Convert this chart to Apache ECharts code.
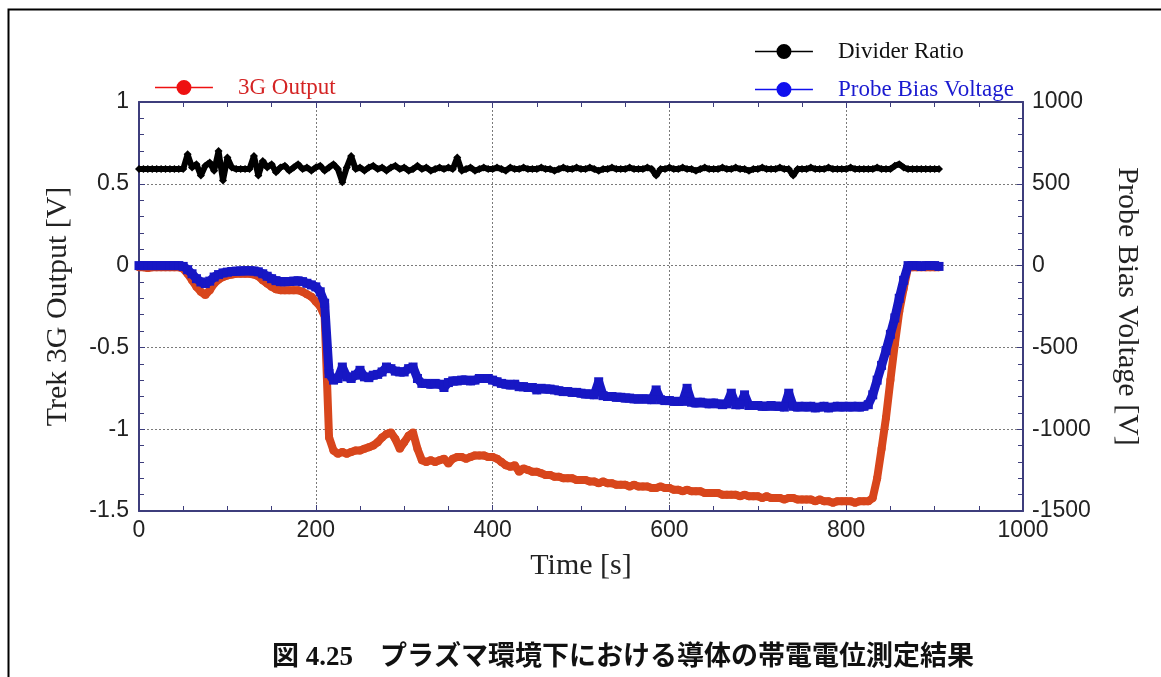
<!DOCTYPE html>
<html>
<head>
<meta charset="utf-8">
<script src="https://cdn.jsdelivr.net/npm/echarts@6/dist/echarts.min.js"></script>
<style>html,body{margin:0;padding:0;background:#fff;}#c{width:1161px;height:677px;}</style>
</head>
<body>
<div id="c"></div>
<script>
// sampling step of the recorded time series [s]
const T_STEP = 5;
const xTicks = { min: 0, max: 1000, interval: 200 };
const leftTicks = { min: -1.5, max: 1, interval: 0.5 };
const rightTicks = { min: -1500, max: 1000, interval: 500 };

// Trek 3G Output [V] (left axis), one value every 5 s from t = 0
const output3G = [
  -0.01,-0.01,-0.015,-0.01,-0.01,-0.01,-0.01,-0.01,-0.01,-0.01,
  -0.02,-0.05,-0.09,-0.13,-0.16,-0.18,-0.15,-0.11,-0.085,-0.07,
  -0.06,-0.055,-0.05,-0.05,-0.05,-0.05,-0.055,-0.065,-0.09,-0.11,
  -0.13,-0.145,-0.15,-0.15,-0.15,-0.15,-0.15,-0.16,-0.175,-0.19,
  -0.22,-0.25,-0.31,-1.05,-1.13,-1.15,-1.14,-1.15,-1.14,-1.13,
  -1.13,-1.12,-1.11,-1.10,-1.08,-1.05,-1.03,-1.02,-1.06,-1.12,
  -1.08,-1.04,-1.02,-1.12,-1.19,-1.20,-1.19,-1.20,-1.19,-1.18,
  -1.21,-1.18,-1.17,-1.17,-1.18,-1.17,-1.16,-1.16,-1.16,-1.17,
  -1.17,-1.18,-1.20,-1.22,-1.23,-1.22,-1.26,-1.24,-1.25,-1.26,
  -1.26,-1.27,-1.28,-1.28,-1.29,-1.29,-1.30,-1.30,-1.30,-1.31,
  -1.31,-1.31,-1.32,-1.32,-1.33,-1.32,-1.33,-1.33,-1.34,-1.34,
  -1.34,-1.35,-1.34,-1.35,-1.35,-1.35,-1.36,-1.36,-1.35,-1.36,
  -1.36,-1.37,-1.37,-1.38,-1.37,-1.38,-1.38,-1.38,-1.39,-1.39,
  -1.39,-1.39,-1.40,-1.40,-1.40,-1.40,-1.41,-1.40,-1.41,-1.41,
  -1.41,-1.42,-1.41,-1.42,-1.42,-1.42,-1.43,-1.42,-1.42,-1.43,
  -1.43,-1.43,-1.43,-1.44,-1.43,-1.44,-1.44,-1.45,-1.44,-1.44,
  -1.44,-1.44,-1.45,-1.44,-1.44,-1.44,-1.42,-1.30,-1.12,-0.93,
  -0.70,-0.48,-0.28,-0.14,-0.01,-0.01,-0.01,-0.01,-0.01,-0.01,
  -0.01,-0.01
];

// Probe Bias Voltage [V] (right axis), one value every 5 s from t = 0
const probeBias = [
  0,0,0,0,0,0,0,0,0,0,
  -5,-25,-50,-80,-100,-110,-95,-70,-55,-45,
  -40,-36,-34,-33,-32,-32,-33,-38,-50,-65,
  -80,-92,-98,-98,-97,-95,-93,-98,-108,-118,
  -130,-160,-230,-660,-700,-690,-620,-680,-690,-670,
  -640,-680,-685,-670,-665,-650,-620,-630,-645,-650,
  -650,-630,-620,-690,-720,-720,-725,-720,-725,-745,
  -715,-705,-705,-700,-700,-705,-700,-690,-690,-690,
  -700,-710,-720,-725,-730,-725,-740,-740,-745,-745,
  -760,-750,-755,-755,-760,-765,-770,-770,-775,-775,
  -780,-785,-785,-790,-710,-795,-800,-800,-805,-805,
  -810,-810,-815,-815,-815,-815,-820,-760,-820,-825,
  -825,-830,-830,-830,-750,-835,-840,-835,-840,-845,
  -840,-845,-850,-845,-780,-850,-850,-790,-855,-855,
  -855,-860,-860,-855,-860,-860,-865,-780,-860,-865,
  -860,-865,-860,-870,-865,-860,-870,-865,-860,-865,
  -860,-865,-860,-865,-860,-850,-790,-700,-610,-520,
  -420,-320,-200,-90,0,0,0,-5,0,0,
  0,-5
];

// Divider Ratio (left axis), one value every 5 s from t = 0
const dividerRatio = [
  0.59,0.59,0.59,0.59,0.59,0.59,0.59,0.59,0.59,0.59,
  0.59,0.68,0.60,0.62,0.55,0.61,0.63,0.58,0.70,0.52,
  0.66,0.60,0.59,0.59,0.59,0.59,0.67,0.55,0.64,0.60,
  0.62,0.57,0.60,0.61,0.58,0.60,0.62,0.59,0.60,0.58,
  0.60,0.61,0.58,0.60,0.62,0.59,0.51,0.60,0.67,0.59,
  0.60,0.58,0.60,0.61,0.59,0.60,0.58,0.60,0.61,0.59,
  0.60,0.58,0.59,0.61,0.59,0.60,0.58,0.59,0.60,0.59,
  0.60,0.59,0.66,0.58,0.59,0.60,0.58,0.59,0.60,0.59,
  0.59,0.60,0.59,0.58,0.60,0.59,0.59,0.60,0.59,0.59,
  0.59,0.60,0.59,0.59,0.58,0.59,0.60,0.59,0.59,0.60,
  0.59,0.59,0.60,0.59,0.58,0.59,0.59,0.60,0.59,0.59,
  0.59,0.60,0.59,0.59,0.59,0.60,0.59,0.55,0.59,0.59,
  0.60,0.59,0.59,0.60,0.59,0.59,0.58,0.59,0.60,0.59,
  0.59,0.59,0.60,0.59,0.59,0.60,0.59,0.59,0.58,0.59,
  0.59,0.60,0.59,0.59,0.59,0.60,0.59,0.59,0.55,0.59,
  0.59,0.59,0.60,0.59,0.59,0.59,0.60,0.59,0.59,0.59,
  0.59,0.60,0.59,0.59,0.59,0.59,0.59,0.60,0.59,0.59,
  0.59,0.61,0.62,0.60,0.59,0.59,0.59,0.59,0.59,0.59,
  0.59,0.59
];

const seriesNames = ['3G Output', 'Divider Ratio', 'Probe Bias Voltage'];
const axisNames = { x: 'Time [s]', left: 'Trek 3G Output [V]', right: 'Probe Bias Voltage [V]' };
const caption = '図 4.25　プラズマ環境下における導体の帯電電位測定結果';

function toPairs(arr) { return arr.map((v, i) => [i * T_STEP, v]); }
const plain = v => String(v);

const AXIS_COLOR = '#3d3d7c';
const LABEL_FONT = { fontFamily: 'Liberation Sans', fontSize: 23, color: '#222' };
const NAME_FONT = { fontFamily: 'Liberation Serif', fontSize: 30, color: '#222' };
const ICON = 'path://M0,6.8H58V8.2H0Z M21.5,7.5a7.5,7.5 0 1,1 15,0a7.5,7.5 0 1,1 -15,0Z M78,7.5h0.1v0.1h-0.1Z';
const LEG_FONT = { fontFamily: 'Liberation Serif', fontSize: 23 };

function legendBox(name, left, top, iconColor, textColor) {
  return {
    left: left, top: top, padding: 0, itemWidth: 78, itemHeight: 15,
    symbolKeepAspect: true,
    textStyle: Object.assign({}, LEG_FONT, { color: textColor }),
    data: [{ name: name, icon: ICON, itemStyle: { color: iconColor, borderWidth: 0 } }]
  };
}

const splitDotted = { show: true, lineStyle: { color: '#7a7a7a', type: [2, 2], width: 1 } };

const option = {
  animation: false,
  backgroundColor: '#fff',
  grid: { left: 139, top: 102, right: 138, bottom: 166 },
  legend: [
    legendBox(seriesNames[0], 155, 76, '#ee1111', '#d42424'),
    legendBox(seriesNames[1], 755, 40, '#000', '#111'),
    legendBox(seriesNames[2], 755, 78, '#1010ee', '#1a1ad0')
  ],
  xAxis: [
    {
      type: 'value', position: 'bottom', min: xTicks.min, max: xTicks.max, interval: xTicks.interval,
      name: axisNames.x, nameLocation: 'middle', nameGap: 40, nameTextStyle: NAME_FONT,
      axisLine: { show: true, onZero: false, lineStyle: { color: AXIS_COLOR, width: 2 } },
      axisTick: { show: true, inside: true, length: 6, lineStyle: { color: AXIS_COLOR } },
      minorTick: { show: true, splitNumber: 4, length: 5, lineStyle: { color: AXIS_COLOR } },
      axisLabel: Object.assign({ margin: 8, formatter: plain }, LABEL_FONT),
      splitLine: splitDotted
    },
    {
      type: 'value', position: 'top', min: xTicks.min, max: xTicks.max, interval: xTicks.interval,
      axisLine: { show: true, onZero: false, lineStyle: { color: AXIS_COLOR, width: 2 } },
      axisTick: { show: true, inside: true, length: 6, lineStyle: { color: AXIS_COLOR } },
      minorTick: { show: true, splitNumber: 4, length: 5, lineStyle: { color: AXIS_COLOR } },
      axisLabel: { show: false }, splitLine: { show: false }
    }
  ],
  yAxis: [
    {
      type: 'value', position: 'left', min: leftTicks.min, max: leftTicks.max, interval: leftTicks.interval,
      name: axisNames.left, nameLocation: 'middle', nameGap: 66, nameRotate: 90, nameTextStyle: NAME_FONT,
      axisLine: { show: true, onZero: false, lineStyle: { color: AXIS_COLOR, width: 2 } },
      axisTick: { show: true, inside: true, length: 6, lineStyle: { color: AXIS_COLOR } },
      minorTick: { show: true, splitNumber: 5, length: 5, lineStyle: { color: AXIS_COLOR } },
      axisLabel: Object.assign({ margin: 10, formatter: plain }, LABEL_FONT),
      splitLine: splitDotted
    },
    {
      type: 'value', position: 'right', min: rightTicks.min, max: rightTicks.max, interval: rightTicks.interval,
      name: axisNames.right, nameLocation: 'middle', nameGap: 89, nameRotate: -90, nameTextStyle: NAME_FONT,
      axisLine: { show: true, onZero: false, lineStyle: { color: AXIS_COLOR, width: 2 } },
      axisTick: { show: true, inside: true, length: 6, lineStyle: { color: AXIS_COLOR } },
      minorTick: { show: true, splitNumber: 5, length: 5, lineStyle: { color: AXIS_COLOR } },
      axisLabel: Object.assign({ margin: 9, formatter: plain }, LABEL_FONT),
      splitLine: { show: false }
    }
  ],
  series: [
    {
      name: seriesNames[0], type: 'line', xAxisIndex: 0, yAxisIndex: 0, data: toPairs(output3G),
      symbol: 'circle', symbolSize: 8, showAllSymbol: true, z: 2,
      lineStyle: { width: 8, color: '#d8461c' }, itemStyle: { color: '#d8461c' }
    },
    {
      name: seriesNames[2], type: 'line', xAxisIndex: 0, yAxisIndex: 1, data: toPairs(probeBias),
      symbol: 'rect', symbolSize: 9, showAllSymbol: true, z: 3,
      lineStyle: { width: 9, color: '#1717c4' }, itemStyle: { color: '#1717c4' }
    },
    {
      name: seriesNames[1], type: 'line', xAxisIndex: 0, yAxisIndex: 0, data: toPairs(dividerRatio),
      symbol: 'diamond', symbolSize: 8, showAllSymbol: true, z: 4,
      lineStyle: { width: 6, color: '#000' }, itemStyle: { color: '#000' }
    }
  ],
  graphic: [
    {
      type: 'rect', left: 6, top: 7, z: -1, silent: true,
      shape: { width: 1300, height: 900 },
      style: { fill: 'none', stroke: '#000', lineWidth: 2 }
    },
    {
      type: 'text', x: 623, y: 658, silent: true,
      style: {
        text: caption, fontFamily: '"Liberation Serif", "Noto Sans CJK JP"', fontWeight: 'bold',
        fontSize: 27, fill: '#111', align: 'center', verticalAlign: 'middle'
      }
    }
  ]
};

const chart = echarts.init(document.getElementById('c'), null, { renderer: 'canvas' });
chart.setOption(option);
</script>
</body>
</html>
